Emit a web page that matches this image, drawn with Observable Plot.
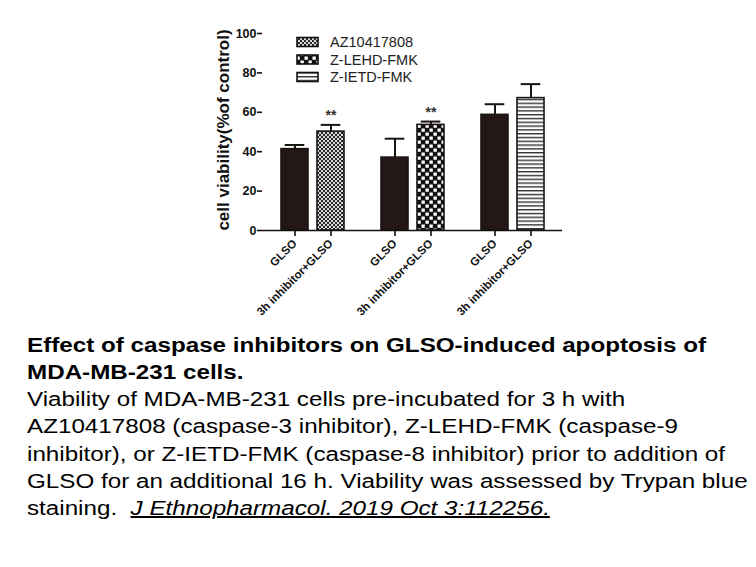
<!DOCTYPE html>
<html><head><meta charset="utf-8">
<script src="https://cdn.jsdelivr.net/npm/d3@7"></script>
<script src="https://cdn.jsdelivr.net/npm/@observablehq/plot@0.6"></script>
<style>
body{margin:0;background:#fff;font-family:"Liberation Sans",Arial,sans-serif;}
#chart svg{display:block}
#caption{margin-top:10px;margin-left:27px;transform:scaleX(1.21);transform-origin:0 0;font-size:20px;color:#000;white-space:nowrap;}
#caption .t{font-weight:bold;line-height:27px}
#caption .b{line-height:27.3px}
</style></head><body>
<div id="chart"></div>
<div id="caption">
<div class="t">Effect of caspase inhibitors on GLSO-induced apoptosis of<br>MDA-MB-231 cells.</div>
<div class="b">Viability of MDA-MB-231 cells pre-incubated for 3 h with<br>AZ10417808 (caspase-3 inhibitor), Z-LEHD-FMK (caspase-9<br>inhibitor), or Z-IETD-FMK (caspase-8 inhibitor) prior to addition of<br>GLSO for an additional 16 h. Viability was assessed by Trypan blue<br>staining.&nbsp; <u><i>J Ethnopharmacol. 2019 Oct 3:112256.</i></u></div>
</div>
<script>
const groups = ["AZ10417808", "Z-LEHD-FMK", "Z-IETD-FMK"];
const conditions = ["GLSO", "3h inhibitor+GLSO"];
const viability = [[41.3, 50.2], [37.0, 53.6], [58.7, 67.2]];
const errors = [[2.1, 3.4], [9.6, 1.7], [5.4, 7.1]];
const significance = [["", "**"], ["", "**"], ["", ""]];
const yTicks = [0, 20, 40, 60, 80, 100];
const patternIds = ["pat-az", "pat-lehd", "pat-ietd"];
const yTitle = "cell viability(%of control)";

const rows = [];
groups.forEach((g, i) => conditions.forEach((c, j) => rows.push({
  group: g, condition: c, value: viability[i][j], err: errors[i][j], sig: significance[i][j],
  fill: j === 0 ? "#231816" : `url(#${patternIds[i]})`
})));

const font = "'Liberation Sans', Arial, sans-serif";
const plot = Plot.plot({
  width: 756, height: 322,
  marginLeft: 261, marginRight: 194, marginTop: 33, marginBottom: 92,
  style: {fontFamily: font, background: "#fff", color: "#111"},
  fx: {domain: groups, padding: 0, axis: null},
  x: {domain: conditions, paddingInner: 0.26, paddingOuter: 0.483, axis: null},
  y: {domain: [0, 100], axis: null},
  color: {type: "identity"},
  marks: [
    Plot.barY(rows, {fx: "group", x: "condition", y: "value", fill: "fill", stroke: "#1a1412", strokeWidth: 1.6}),
    Plot.ruleX(rows, {fx: "group", x: "condition", y1: "value", y2: d => d.value + d.err, stroke: "#1a1412", strokeWidth: 2}),
    Plot.tickY(rows, {fx: "group", x: "condition", y: d => d.value + d.err, stroke: "#1a1412", strokeWidth: 2, insetLeft: 3.7, insetRight: 3.7}),
    Plot.text(rows.filter(d => d.sig), {fx: "group", x: "condition", y: d => d.value + d.err, text: "sig", dy: -9, fontSize: 14, fontWeight: "bold", fill: "#333"}),
    Plot.ruleY([0], {stroke: "#111", strokeWidth: 1.6}),
    Plot.axisY({ticks: yTicks, tickSize: 5, tickPadding: 1, fontSize: 12.5, fontWeight: "bold", label: null, line: true, strokeWidth: 1.6, fill: "#111"}),
    Plot.axisX({tickRotate: -45, tickSize: 6, tickPadding: 5, fontSize: 11.5, fontWeight: "bold", label: null, strokeWidth: 1.6, fill: "#111"})
  ]
});
document.getElementById("chart").appendChild(plot);

const svg = d3.select(plot);
const defs = svg.insert("defs", ":first-child");
// AZ10417808: fine grey checker
const p1 = defs.append("pattern").attr("id", patternIds[0]).attr("patternUnits", "userSpaceOnUse").attr("width", 4).attr("height", 4);
p1.append("rect").attr("width", 4).attr("height", 4).attr("fill", "#d8d8d8");
p1.append("rect").attr("width", 2).attr("height", 2).attr("fill", "#2a2a2a");
p1.append("rect").attr("x", 2).attr("y", 2).attr("width", 2).attr("height", 2).attr("fill", "#2a2a2a");
// Z-LEHD-FMK: black with staggered white squares
const p2 = defs.append("pattern").attr("id", patternIds[1]).attr("patternUnits", "userSpaceOnUse").attr("width", 8).attr("height", 8);
p2.append("rect").attr("width", 8).attr("height", 8).attr("fill", "#111");
p2.append("rect").attr("x", 0.5).attr("y", 0.5).attr("width", 3.3).attr("height", 3.3).attr("fill", "#fff");
p2.append("rect").attr("x", 4.5).attr("y", 4.5).attr("width", 3.3).attr("height", 3.3).attr("fill", "#fff");
// Z-IETD-FMK: horizontal stripes
const p3 = defs.append("pattern").attr("id", patternIds[2]).attr("patternUnits", "userSpaceOnUse").attr("width", 4).attr("height", 3.8);
p3.append("rect").attr("width", 4).attr("height", 3.8).attr("fill", "#fff");
p3.append("rect").attr("y", 0).attr("width", 4).attr("height", 1.4).attr("fill", "#333");

// y-axis title
svg.append("text")
  .attr("transform", "translate(223,130) rotate(-90)")
  .attr("text-anchor", "middle").attr("dominant-baseline", "central")
  .attr("font-family", font).attr("font-size", 17).attr("font-weight", "bold").attr("fill", "#111")
  .text(yTitle);

// legend
const lg = svg.append("g").attr("font-family", font).attr("font-size", 14.5).attr("text-anchor", "start");
groups.forEach((g, i) => {
  const cy = 42 + i * 17.5;
  lg.append("rect").attr("x", 297).attr("y", cy - 4.5).attr("width", 21).attr("height", 9)
    .attr("fill", `url(#${patternIds[i]})`).attr("stroke", "#111").attr("stroke-width", 1.6);
  lg.append("text").attr("x", 330).attr("y", cy + 5.2).attr("fill", "#222").text(g);
});
</script>
</body></html>
